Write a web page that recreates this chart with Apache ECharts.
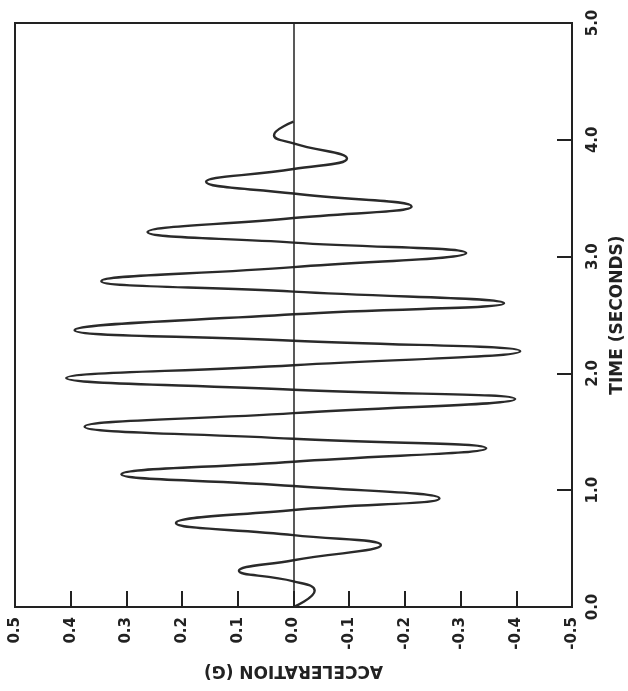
<!DOCTYPE html>
<html>
<head>
<meta charset="utf-8">
<script src="https://cdn.jsdelivr.net/npm/echarts@6/dist/echarts.min.js"></script>
<style>
  html, body { margin: 0; padding: 0; background: #fff; }
  #chart { width: 628px; height: 691px; }
</style>
</head>
<body>
<div id="chart"></div>
<script>
// time (s) read at each peak and zero crossing of the trace
var timeS = [0.00, 0.14, 0.22, 0.31, 0.40, 0.53, 0.615, 0.72, 0.83, 0.93, 1.036,
  1.136, 1.244, 1.36, 1.44, 1.544, 1.66, 1.78, 1.86, 1.96, 2.07,
  2.19, 2.28, 2.37, 2.506, 2.60, 2.70, 2.79, 2.91, 3.03, 3.12,
  3.21, 3.33, 3.43, 3.54, 3.64, 3.75, 3.84, 3.97, 4.04, 4.155];
// acceleration (g) at those times
var accelG = [0, -0.038, 0, 0.098, 0, -0.157, 0, 0.211, 0, -0.262, 0,
  0.309, 0, -0.346, 0, 0.375, 0, -0.398, 0, 0.408, 0,
  -0.407, 0, 0.393, 0, -0.378, 0, 0.345, 0, -0.31, 0,
  0.262, 0, -0.212, 0, 0.157, 0, -0.096, 0, 0.035, 0];

var accelRange = [-0.5, 0.5];
var timeRange = [0, 5];

var ink = '#222';
var font = "'DejaVu Sans', 'Liberation Sans', sans-serif";

function fmt(v) {
  var s = v.toFixed(1);
  return s === '-0.0' ? '0.0' : s;
}

var chart = echarts.init(document.getElementById('chart'));

var points = [];
for (var i = 0; i < timeS.length; i++) {
  points.push([accelG[i], timeS[i]]);
}

var option = {
  animation: false,
  backgroundColor: '#fff',
  grid: {
    left: 15, right: 56, top: 23, bottom: 84,
    outerBoundsMode: 'none',
    show: true, borderColor: ink, borderWidth: 2
  },
  xAxis: {
    type: 'value',
    min: accelRange[0], max: accelRange[1], interval: 0.1,
    inverse: true,
    position: 'bottom',
    splitLine: { show: false },
    axisLine: { show: true, onZero: false, lineStyle: { color: ink, width: 2 } },
    axisTick: { show: true, inside: true, length: 16, lineStyle: { color: ink, width: 2 } },
    axisLabel: {
      rotate: 90, margin: 10, color: ink,
      fontFamily: font, fontWeight: 'bold', fontSize: 15,
      formatter: fmt
    },
    name: 'ACCELERATION (G)',
    nameLocation: 'middle',
    nameRotate: 180,
    nameGap: 55,
    nameTextStyle: { color: ink, fontFamily: font, fontWeight: 'bold', fontSize: 17 }
  },
  yAxis: {
    type: 'value',
    min: timeRange[0], max: timeRange[1], interval: 1,
    position: 'right',
    splitLine: { show: false },
    axisLine: { show: true, onZero: false, lineStyle: { color: ink, width: 2 } },
    axisTick: { show: true, inside: true, length: 15, lineStyle: { color: ink, width: 2 } },
    axisLabel: {
      rotate: 90, margin: 14, color: ink,
      fontFamily: font, fontWeight: 'bold', fontSize: 15,
      formatter: fmt
    },
    name: 'TIME (SECONDS)',
    nameLocation: 'middle',
    nameRotate: 90,
    nameGap: 37,
    nameTextStyle: { color: ink, fontFamily: font, fontWeight: 'bold', fontSize: 17 }
  },
  series: [{
    type: 'line',
    data: points,
    smooth: 0.5,
    showSymbol: false,
    lineStyle: { color: '#2a2a2a', width: 2.4 },
    markLine: {
      silent: true,
      symbol: 'none',
      label: { show: false },
      lineStyle: { color: ink, width: 1.5, type: 'solid' },
      data: [{ xAxis: 0 }]
    }
  }]
};

chart.setOption(option);
</script>
</body>
</html>
